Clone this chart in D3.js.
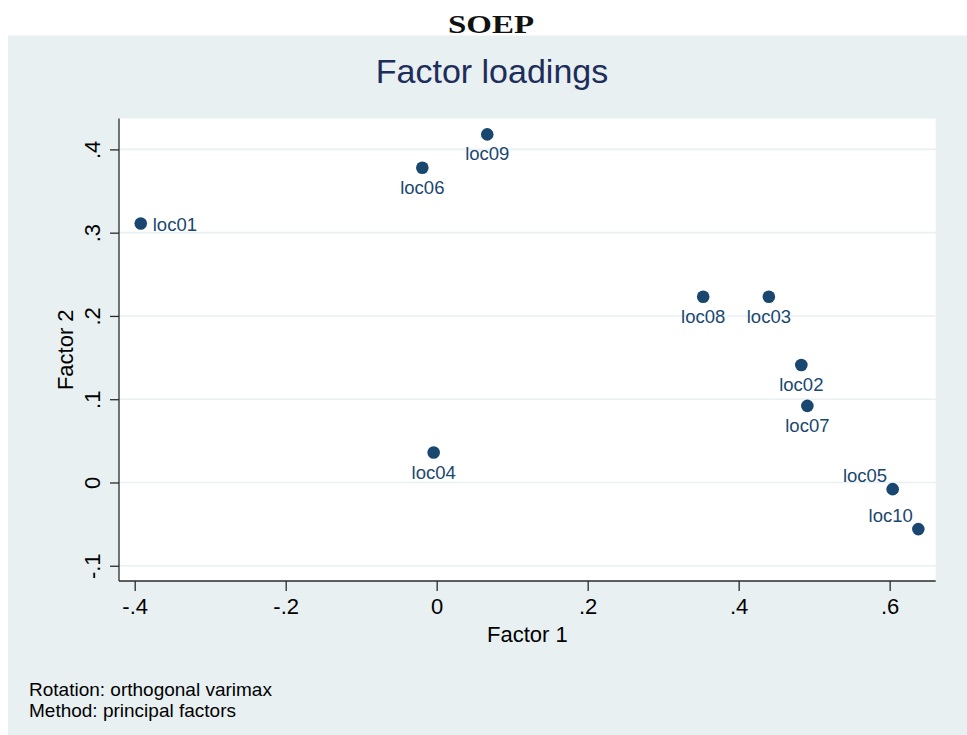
<!DOCTYPE html>
<html>
<head>
<meta charset="utf-8">
<script src="https://cdn.jsdelivr.net/npm/d3@7"></script>
<style>
  body { margin: 0; background: #fff; }
  text { font-family: "Liberation Sans", Arial, Helvetica, sans-serif; }
</style>
</head>
<body>
<div class="box"></div>
<script>
// factor loadings
const names   = ["loc01", "loc02", "loc03", "loc04", "loc05", "loc06", "loc07", "loc08", "loc09", "loc10"]
const factor1 = [-0.392, 0.483, 0.440, -0.004, 0.604, -0.019, 0.491, 0.353, 0.067, 0.638]
const factor2 = [0.311, 0.141, 0.223, 0.036, -0.008, 0.378, 0.092, 0.223, 0.418, -0.056]
// marker label clock position (stata style)
const labelClock = [3, 6, 6, 6, 11, 6, 6, 6, 6, 11]

const xTicks = [-0.4, -0.2, 0, 0.2, 0.4, 0.6]
const xTickLabels = ["-.4", "-.2", "0", ".2", ".4", ".6"]
const yTicks = [-0.1, 0, 0.1, 0.2, 0.3, 0.4]
const yTickLabels = ["-.1", "0", ".1", ".2", ".3", ".4"]

const width = 967
const height = 735
const plot = { left: 119, right: 935.7, top: 118.5, bottom: 581 }

const navy = "#1a476f"
const bg = "#e8f0f2"

const svg = d3.select(".box")
    .append("svg")
    .attr("width", width)
    .attr("height", height)
    .style("display", "block")

// top heading, outside of the graph region
svg.append("text")
    .attr("x", 491)
    .attr("y", 32.5)
    .attr("text-anchor", "middle")
    .attr("textLength", 86)
    .attr("lengthAdjust", "spacingAndGlyphs")
    .style("font-family", "'Liberation Serif', 'DejaVu Serif', serif")
    .style("font-weight", "bold")
    .style("font-size", "25px")
    .attr("fill", "#111")
    .text("SOEP")

// graph region
svg.append("rect")
    .attr("x", 8)
    .attr("y", 35.5)
    .attr("width", width - 8)
    .attr("height", height - 35.5)
    .attr("fill", bg)

svg.append("rect")
    .attr("x", plot.left)
    .attr("y", plot.top)
    .attr("width", plot.right - plot.left)
    .attr("height", plot.bottom - plot.top)
    .attr("fill", "#fff")

const x = d3.scaleLinear().domain([-0.4208, 0.6610]).range([plot.left, plot.right])
const y = d3.scaleLinear().domain([-0.1183, 0.4371]).range([plot.bottom, plot.top])

// horizontal grid
svg.append("g")
    .selectAll("line")
    .data(yTicks).enter()
    .append("line")
    .attr("x1", plot.left)
    .attr("x2", plot.right)
    .attr("y1", d => y(d))
    .attr("y2", d => y(d))
    .attr("stroke", bg)
    .attr("stroke-width", 1.6)

// axes
const xAxis = svg.append("g")
    .attr("transform", `translate(0, ${plot.bottom})`)
    .call(d3.axisBottom(x).tickValues(xTicks).tickSize(10).tickPadding(0)
        .tickFormat((d, i) => xTickLabels[i]))
xAxis.select(".domain").attr("d", `M${plot.left},0H${plot.right}`)

const yAxis = svg.append("g")
    .attr("transform", `translate(${plot.left}, 0)`)
    .call(d3.axisLeft(y).tickValues(yTicks).tickSize(9)
        .tickFormat((d, i) => yTickLabels[i]))
yAxis.select(".domain").attr("d", `M0,${plot.top}V${plot.bottom}`)

svg.selectAll(".domain, .tick line")
    .attr("stroke", "#2a2a2a")
    .attr("stroke-width", 1.3)

xAxis.selectAll(".tick text")
    .attr("y", 33)
    .attr("dy", null)
    .attr("fill", "#000")
    .style("font-size", "22px")

yAxis.selectAll(".tick text")
    .attr("x", null)
    .attr("dy", null)
    .attr("text-anchor", "middle")
    .attr("transform", "translate(-19, 0) rotate(-90)")
    .attr("fill", "#000")
    .style("font-size", "22px")

// axis titles
svg.append("text")
    .attr("x", (plot.left + plot.right) / 2)
    .attr("y", 641.5)
    .attr("text-anchor", "middle")
    .style("font-size", "22px")
    .text("Factor 1")

svg.append("text")
    .attr("transform", `translate(73, ${(plot.top + plot.bottom) / 2}) rotate(-90)`)
    .attr("text-anchor", "middle")
    .style("font-size", "22px")
    .text("Factor 2")

// chart title
svg.append("text")
    .attr("x", 492)
    .attr("y", 82.5)
    .attr("text-anchor", "middle")
    .attr("fill", "#1e2d5a")
    .style("font-size", "34px")
    .text("Factor loadings")

// markers
const points = names.map((n, i) => ({ name: n, f1: factor1[i], f2: factor2[i], clock: labelClock[i] }))

svg.append("g")
    .selectAll("circle")
    .data(points).enter()
    .append("circle")
    .attr("cx", d => x(d.f1))
    .attr("cy", d => y(d.f2))
    .attr("r", 6.3)
    .attr("fill", navy)

svg.append("g")
    .selectAll("text")
    .data(points).enter()
    .append("text")
    .attr("x", d => {
        if (d.clock === 3) return x(d.f1) + 12
        if (d.clock === 11) return x(d.f1) - 5.5
        return x(d.f1)
    })
    .attr("y", d => {
        if (d.clock === 3) return y(d.f2) + 7
        if (d.clock === 11) return y(d.f2) - 7
        return y(d.f2) + 26
    })
    .attr("text-anchor", d => d.clock === 3 ? "start" : d.clock === 11 ? "end" : "middle")
    .attr("fill", navy)
    .style("font-size", "18.5px")
    .text(d => d.name)

// note
const notes = ["Rotation: orthogonal varimax", "Method: principal factors"]
svg.append("g")
    .selectAll("text")
    .data(notes).enter()
    .append("text")
    .attr("x", 29)
    .attr("y", (d, i) => 696 + i * 21)
    .style("font-size", "19px")
    .attr("fill", "#000")
    .text(d => d)
</script>
</body>
</html>
